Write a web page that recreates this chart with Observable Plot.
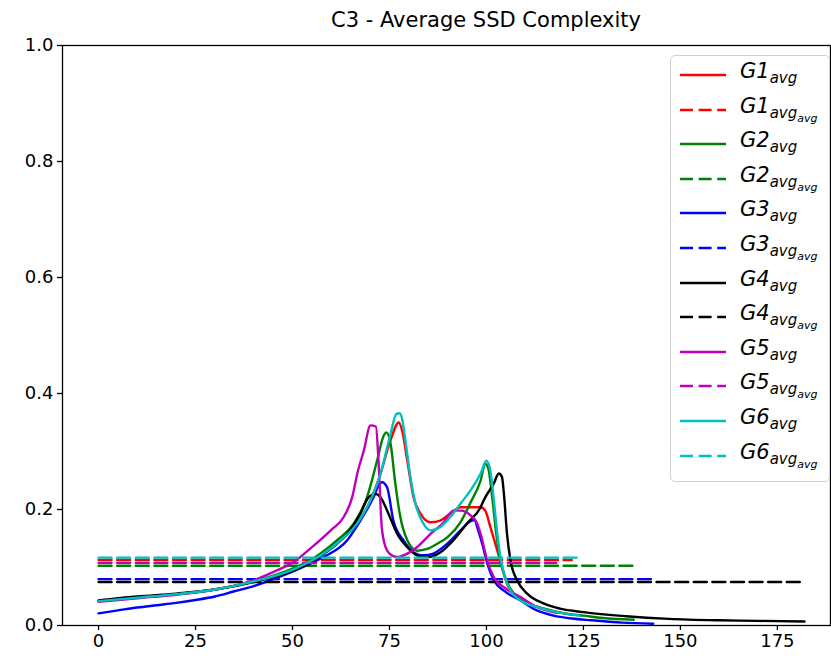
<!DOCTYPE html>
<html><head><meta charset="utf-8">
<script src="https://cdn.jsdelivr.net/npm/d3@7"></script>
<script src="https://cdn.jsdelivr.net/npm/@observablehq/plot@0.6"></script>
<style>
body{margin:0;background:#fff;font-family:"DejaVu Sans",sans-serif;}
#wrap{position:relative;width:831px;height:662px;overflow:hidden;}
#title{position:absolute;left:186px;width:600px;top:8px;text-align:center;font-size:21px;color:#000;white-space:nowrap;}
#legend{position:absolute;left:670px;top:55px;width:160px;height:427px;border:1.3px solid #d0d0d0;border-radius:5px;background:rgba(255,255,255,0.85);box-sizing:border-box;}
.row{position:absolute;left:0;height:30px;width:160px;}
.row svg{position:absolute;left:8px;top:0;}
.lab{position:absolute;left:69px;top:1px;font-style:italic;font-size:21px;line-height:21px;white-space:nowrap;}
.lab sub{font-size:15px;vertical-align:-5px;line-height:0;}
.lab sub sub{font-size:11px;vertical-align:-4px;}
</style></head>
<body>
<div id="wrap">
<div id="title">C3 - Average SSD Complexity</div>
<div id="chart"></div>
<div id="legend"></div>
</div>
<script>
// ---- data ----
const seriesNames = ["G1","G2","G3","G4","G5","G6"];
const seriesColors = ["#ff0000","#008000","#0000ff","#000000","#bf00bf","#00bfbf"];

const g1X = [0,10,20,30,40,50,55,58,62.4,66.7,70.1,72.7,75.3,77.4,78.3,79.6,81.2,83,85.6,88.1,90.7,93.3,95.9,98.5,99.7,101,102.8,104,105.3,107.9,113,118,122];
const g1Y = [0.042,0.048,0.054,0.062,0.076,0.096,0.112,0.124,0.147,0.176,0.216,0.262,0.32,0.35,0.335,0.284,0.221,0.193,0.178,0.181,0.193,0.204,0.204,0.204,0.198,0.17,0.129,0.1,0.072,0.049,0.032,0.023,0.019];

const g2X = [0,10,20,30,40,50,55,57.2,61.5,65.8,69.2,71.8,73.5,74.2,75.3,76.5,77.8,79.6,82.1,84.7,87.3,89.9,93.3,95.9,98.5,99.7,100.5,101.5,102.5,103.5,105,107,110,115,120,125,130,138];
const g2Y = [0.042,0.048,0.054,0.062,0.076,0.098,0.114,0.124,0.147,0.176,0.221,0.284,0.327,0.333,0.313,0.245,0.187,0.147,0.129,0.132,0.141,0.152,0.178,0.212,0.25,0.279,0.27,0.22,0.16,0.115,0.08,0.055,0.04,0.029,0.021,0.017,0.013,0.01];

const g3X = [0,5,10,15,20,25,30,35,40,45,50,55,58,64.1,67.5,70.9,72.5,73.1,74.4,76,78.6,81.2,83.8,86.3,89.9,93.3,95.9,97,97.6,98.9,100.2,101.9,104.5,108.8,113,117.3,122,127,135,143];
const g3Y = [0.021,0.026,0.031,0.035,0.039,0.044,0.05,0.059,0.068,0.08,0.093,0.108,0.118,0.147,0.181,0.221,0.245,0.247,0.238,0.181,0.147,0.126,0.121,0.124,0.141,0.164,0.18,0.182,0.17,0.141,0.107,0.078,0.06,0.043,0.026,0.017,0.012,0.009,0.005,0.003];

const g4X = [0,5,10,20,30,40,50,55.5,60,64.1,67.5,69.6,71.4,72.7,74.4,77,79.6,82.1,84.7,88.1,91.5,95,98.5,99.3,101.9,103.2,104,104.5,105.3,106.2,107.9,110.5,114.7,119,125,136,147,160,170,182];
const g4Y = [0.043,0.047,0.05,0.055,0.062,0.075,0.094,0.112,0.133,0.158,0.193,0.221,0.227,0.221,0.198,0.158,0.135,0.121,0.118,0.126,0.147,0.176,0.204,0.216,0.245,0.262,0.256,0.227,0.158,0.112,0.078,0.055,0.038,0.029,0.023,0.016,0.0115,0.009,0.008,0.007];

const g5X = [0,10,20,30,40,45,50,55,60,63.2,65.5,66.7,68.4,70.1,71.5,72.2,73,74,75,77,79.6,82.1,85.6,89,91.5,93.3,95.9,97.6,98.5,100.2,101.9,104.5,108.8,113,118];
const g5Y = [0.041,0.047,0.053,0.062,0.078,0.092,0.108,0.135,0.165,0.187,0.224,0.262,0.302,0.345,0.343,0.28,0.17,0.135,0.124,0.118,0.124,0.135,0.158,0.178,0.198,0.198,0.19,0.176,0.158,0.112,0.083,0.066,0.049,0.032,0.022];

const g6X = [0,10,20,30,40,50,55,58,62.4,66.7,70.1,72.7,75.3,76.8,77.6,78.3,79.1,80.4,81.7,83.8,85.6,88.1,90.7,93.3,95.9,98.5,100,101,101.9,102.8,103.6,104.5,106.2,108.8,113,118.2,124];
const g6Y = [0.042,0.048,0.054,0.062,0.076,0.096,0.112,0.124,0.147,0.176,0.216,0.262,0.331,0.365,0.366,0.355,0.319,0.256,0.21,0.175,0.164,0.17,0.187,0.21,0.233,0.262,0.284,0.267,0.216,0.158,0.118,0.09,0.06,0.043,0.032,0.023,0.017];

// average-of-average levels (dashed lines)
const avgLevels = [0.113,0.103,0.080,0.075,0.108,0.117];

const xTicks = [0,25,50,75,100,125,150,175];
const yTicks = [0,0.2,0.4,0.6,0.8,1.0];

// ---- build tables ----
const xs = [g1X,g2X,g3X,g4X,g5X,g6X];
const ys = [g1Y,g2Y,g3Y,g4Y,g5Y,g6Y];
const marks = [];
seriesNames.forEach((name,i)=>{
  const pts = xs[i].map((x,j)=>({x, y: ys[i][j]}));
  marks.push(Plot.lineY(pts,{x:"x",y:"y",stroke:seriesColors[i],strokeWidth:2.4,curve:"monotone-x"}));
  const xmax = d3.max(xs[i]);
  const dash = [{x:0,y:avgLevels[i]},{x:xmax,y:avgLevels[i]}];
  marks.push(Plot.lineY(dash,{x:"x",y:"y",stroke:seriesColors[i],strokeWidth:2.4,strokeDasharray:"13,5.6"}));
});

const chart = Plot.plot({
  width:831, height:662,
  marginLeft:62, marginRight:1, marginTop:45, marginBottom:37,
  x:{domain:[-9.3,188.7]},
  y:{domain:[0,1]},
  style:{fontFamily:"DejaVu Sans", fontSize:"18px", color:"#000", background:"transparent", overflow:"visible"},
  marks:[
    ...marks,
    Plot.frame({stroke:"#000", strokeWidth:1.3}),
    Plot.axisX({ticks:xTicks, tickSize:5, tickPadding:4, tickFormat:d=>String(d), label:null, fontSize:18, strokeWidth:1.3}),
    Plot.axisY({ticks:yTicks, tickSize:5, tickPadding:4, tickFormat:d=>d.toFixed(1), label:null, fontSize:18, strokeWidth:1.3})
  ]
});
document.getElementById("chart").appendChild(chart);

// ---- legend ----
const legend = document.getElementById("legend");
const rowStep = 34.6;
let k = 0;
seriesNames.forEach((name,i)=>{
  [false,true].forEach(dashed=>{
    const row = document.createElement("div");
    row.className = "row";
    row.style.top = (k*rowStep + 4) + "px";
    row.innerHTML =
      `<svg width="50" height="30"><line x1="1" y1="15" x2="47" y2="15" stroke="${seriesColors[i]}" stroke-width="2.4" ${dashed?'stroke-dasharray="13,5.6"':''}/></svg>` +
      `<div class="lab">${name}<sub>avg${dashed?'<sub>avg</sub>':''}</sub></div>`;
    legend.appendChild(row);
    k++;
  });
});
</script>
</body></html>
